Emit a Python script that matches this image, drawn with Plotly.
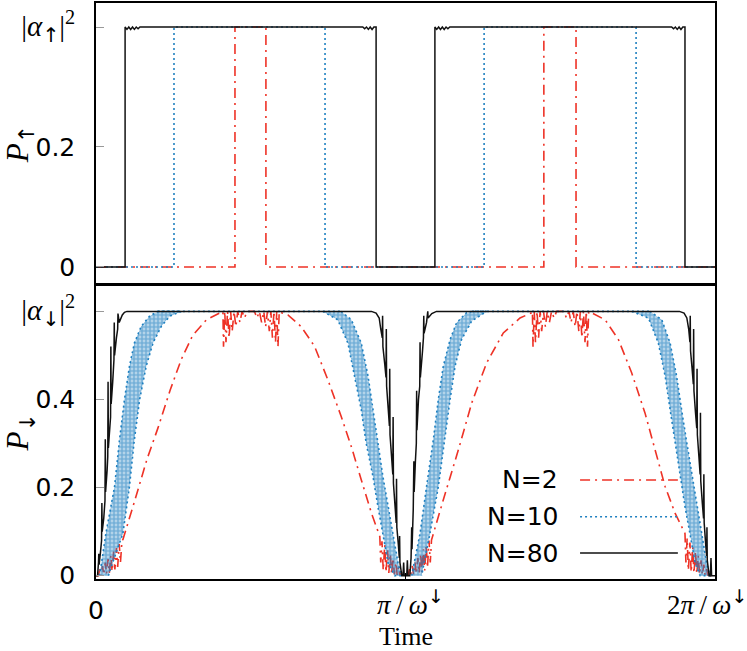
import plotly.graph_objects as go
from plotly.subplots import make_subplots

# ---
# data, time in units of pi/omega_down
# ---
RED = "#ee3226"
BLUE = "#1f80c0"
BLACK = "#111111"
SANS = "DejaVu Sans"
SERIF = "Liberation Serif"
ARROW = "DejaVu Sans"   # Liberation has no arrows, keep the emoji font out

# top panel: P_up (square waves)
t_up_n2 = [0.000, 0.449, 0.449, 0.549, 0.549, 1.447, 1.447, 1.551, 1.551, 2.000]
p_up_n2 = [0.000, 0.000, 0.400, 0.400, 0.000, 0.000, 0.400, 0.400, 0.000, 0.000]

t_up_n10 = [0.000, 0.252, 0.252, 0.740, 0.740, 1.254, 1.254, 1.745, 1.745, 2.000]
p_up_n10 = [0.000, 0.000, 0.400, 0.400, 0.000, 0.000, 0.400, 0.400, 0.000, 0.000]

t_up_n80 = [0.000, 0.094, 0.094, 0.100, 0.106, 0.112, 0.118, 0.124, 0.130, 0.136, 0.142,
            0.862, 0.868, 0.874, 0.880, 0.886, 0.892, 0.898, 0.905, 0.905,
            1.095, 1.095, 1.101, 1.107, 1.113, 1.119, 1.125, 1.131, 1.137, 1.143,
            1.860, 1.866, 1.872, 1.878, 1.884, 1.890, 1.896, 1.903, 1.903, 2.000]
p_up_n80 = [0.000, 0.000, 0.400, 0.396, 0.400, 0.396, 0.400, 0.396, 0.400, 0.397, 0.400,
            0.400, 0.397, 0.400, 0.396, 0.400, 0.396, 0.400, 0.400, 0.000,
            0.000, 0.400, 0.396, 0.400, 0.396, 0.400, 0.396, 0.400, 0.397, 0.400,
            0.400, 0.397, 0.400, 0.396, 0.400, 0.396, 0.400, 0.400, 0.000, 0.000]

# bottom panel: P_down
dn_n2 = [
    (0.000, 0.000), (0.008, 0.000), (0.012, 0.015), (0.016, 0.000), (0.021, 0.022), (0.025, 0.002),
    (0.030, 0.030), (0.034, 0.004), (0.039, 0.038), (0.043, 0.006), (0.048, 0.046), (0.052, 0.010),
    (0.057, 0.055), (0.061, 0.014), (0.066, 0.063), (0.070, 0.020), (0.075, 0.072), (0.079, 0.030),
    (0.084, 0.080), (0.087, 0.082),
    (0.125, 0.170), (0.165, 0.265), (0.200, 0.335), (0.240, 0.422), (0.275, 0.490), (0.312, 0.545),
    (0.357, 0.581), (0.406, 0.597),
    (0.410, 0.600), (0.412, 0.520), (0.416, 0.600), (0.420, 0.530), (0.425, 0.600), (0.430, 0.540),
    (0.435, 0.600), (0.440, 0.555), (0.446, 0.600), (0.452, 0.565), (0.458, 0.600), (0.465, 0.575),
    (0.472, 0.600), (0.480, 0.585), (0.488, 0.600), (0.512, 0.600), (0.520, 0.585), (0.528, 0.600),
    (0.535, 0.575), (0.542, 0.600), (0.548, 0.565), (0.554, 0.600), (0.560, 0.555), (0.565, 0.600),
    (0.570, 0.540), (0.575, 0.600), (0.580, 0.530), (0.584, 0.600), (0.588, 0.520), (0.592, 0.600),
    (0.600, 0.597), (0.620, 0.592), (0.662, 0.566), (0.706, 0.521), (0.749, 0.445), (0.792, 0.362),
    (0.825, 0.293), (0.857, 0.218), (0.890, 0.142), (0.917, 0.089),
    (0.920, 0.030), (0.924, 0.078), (0.928, 0.012), (0.933, 0.070), (0.937, 0.008), (0.942, 0.060),
    (0.946, 0.006), (0.951, 0.050), (0.955, 0.004), (0.960, 0.040), (0.964, 0.003), (0.969, 0.030),
    (0.973, 0.002), (0.978, 0.020), (0.982, 0.001), (0.986, 0.010), (0.990, 0.000), (1.000, 0.000),
    (1.004, 0.008), (1.008, 0.000), (1.013, 0.015), (1.017, 0.001), (1.022, 0.022), (1.026, 0.002),
    (1.031, 0.030), (1.035, 0.004), (1.040, 0.040), (1.044, 0.006), (1.049, 0.050), (1.053, 0.008),
    (1.058, 0.060), (1.062, 0.012), (1.067, 0.070), (1.071, 0.018), (1.076, 0.080), (1.080, 0.030),
    (1.084, 0.081),
    (1.122, 0.172), (1.171, 0.286), (1.214, 0.392), (1.262, 0.483), (1.316, 0.551), (1.370, 0.585),
    (1.408, 0.597),
    (1.410, 0.600), (1.412, 0.520), (1.416, 0.600), (1.420, 0.530), (1.425, 0.600), (1.430, 0.540),
    (1.435, 0.600), (1.440, 0.555), (1.446, 0.600), (1.452, 0.565), (1.458, 0.600), (1.465, 0.575),
    (1.472, 0.600), (1.480, 0.585), (1.488, 0.600), (1.512, 0.600), (1.520, 0.585), (1.528, 0.600),
    (1.535, 0.575), (1.542, 0.600), (1.548, 0.565), (1.554, 0.600), (1.560, 0.555), (1.565, 0.600),
    (1.570, 0.540), (1.575, 0.600), (1.580, 0.530), (1.584, 0.600), (1.588, 0.520), (1.592, 0.600),
    (1.600, 0.597), (1.645, 0.581), (1.688, 0.536), (1.731, 0.460), (1.774, 0.369), (1.806, 0.286),
    (1.839, 0.202), (1.871, 0.142), (1.903, 0.096),
    (1.906, 0.030), (1.910, 0.085), (1.914, 0.012), (1.919, 0.075), (1.923, 0.008), (1.928, 0.065),
    (1.932, 0.006), (1.937, 0.055), (1.941, 0.004), (1.946, 0.045), (1.950, 0.003), (1.955, 0.035),
    (1.959, 0.002), (1.964, 0.025), (1.968, 0.001), (1.973, 0.015), (1.977, 0.000), (1.981, 0.008),
    (1.985, 0.000), (2.000, 0.000),
]

# N=10 oscillates fast: kept as the outline of the band it fills
band_n10_rise1 = [
    (0.010, 0.000), (0.016, 0.020), (0.032, 0.096), (0.060, 0.202), (0.076, 0.309), (0.092, 0.400),
    (0.108, 0.475), (0.124, 0.528), (0.146, 0.566), (0.173, 0.589), (0.200, 0.600),
    (0.276, 0.600), (0.238, 0.589), (0.211, 0.566), (0.184, 0.528), (0.162, 0.475), (0.141, 0.400),
    (0.124, 0.309), (0.108, 0.202), (0.087, 0.096), (0.049, 0.020), (0.040, 0.000),
]
band_n10_fall1 = [
    (0.733, 0.600), (0.781, 0.581), (0.814, 0.528), (0.835, 0.453), (0.857, 0.377), (0.873, 0.301),
    (0.895, 0.225), (0.911, 0.157), (0.927, 0.096), (0.944, 0.028), (0.965, 0.000),
    (0.987, 0.000), (0.976, 0.028), (0.960, 0.096), (0.944, 0.157), (0.927, 0.225), (0.911, 0.301),
    (0.895, 0.377), (0.879, 0.453), (0.857, 0.528), (0.825, 0.581), (0.792, 0.600),
]
band_n10_rise2 = [
    (1.020, 0.000), (1.047, 0.096), (1.068, 0.202), (1.090, 0.309), (1.106, 0.400), (1.122, 0.475),
    (1.144, 0.536), (1.165, 0.574), (1.197, 0.597), (1.215, 0.600),
    (1.262, 0.600), (1.214, 0.578), (1.181, 0.536), (1.160, 0.475), (1.144, 0.400), (1.127, 0.309),
    (1.106, 0.202), (1.079, 0.096), (1.052, 0.000),
]
band_n10_fall2 = [
    (1.731, 0.600), (1.785, 0.585), (1.817, 0.528), (1.839, 0.453), (1.855, 0.377), (1.871, 0.301),
    (1.887, 0.225), (1.903, 0.157), (1.919, 0.096), (1.936, 0.028), (1.952, 0.000),
    (1.984, 0.000), (1.973, 0.028), (1.957, 0.096), (1.941, 0.157), (1.925, 0.225), (1.909, 0.301),
    (1.892, 0.377), (1.876, 0.453), (1.855, 0.528), (1.828, 0.581), (1.790, 0.600),
]
flat_n10_t = [0.200, 0.792, None, 1.215, 1.790]
flat_n10_p = [0.600, 0.600, None, 0.600, 0.600]

dn_n80 = [
    (0.000, 0.000), (0.005, 0.000), (0.008, 0.030), (0.009, 0.050), (0.010, 0.025), (0.014, 0.050),
    (0.018, 0.080), (0.019, 0.165), (0.020, 0.100), (0.025, 0.130), (0.029, 0.170), (0.030, 0.310),
    (0.031, 0.190), (0.036, 0.240), (0.038, 0.270), (0.039, 0.440), (0.040, 0.290), (0.045, 0.340),
    (0.047, 0.360), (0.048, 0.520), (0.049, 0.390), (0.054, 0.440), (0.058, 0.490), (0.059, 0.575),
    (0.060, 0.500), (0.066, 0.540), (0.070, 0.560), (0.071, 0.595), (0.075, 0.575), (0.085, 0.592),
    (0.092, 0.598), (0.100, 0.600), (0.890, 0.600),
    (0.905, 0.596), (0.915, 0.585), (0.920, 0.560), (0.925, 0.540), (0.926, 0.590), (0.927, 0.520),
    (0.933, 0.480), (0.937, 0.450), (0.938, 0.560), (0.939, 0.430), (0.944, 0.380), (0.948, 0.340),
    (0.949, 0.470), (0.950, 0.320), (0.955, 0.270), (0.959, 0.230), (0.960, 0.360), (0.961, 0.210),
    (0.966, 0.160), (0.970, 0.120), (0.971, 0.220), (0.972, 0.110), (0.977, 0.070), (0.980, 0.040),
    (0.981, 0.090), (0.982, 0.030), (0.988, 0.000), (0.992, 0.000), (0.994, 0.030), (0.996, 0.000),
    (1.004, 0.000), (1.006, 0.035), (1.008, 0.000), (1.014, 0.000),
    (1.018, 0.040), (1.020, 0.110), (1.021, 0.060), (1.025, 0.150), (1.027, 0.260), (1.028, 0.190),
    (1.032, 0.260), (1.035, 0.300), (1.036, 0.420), (1.037, 0.330), (1.042, 0.400), (1.046, 0.430),
    (1.047, 0.530), (1.048, 0.450), (1.055, 0.510), (1.058, 0.540), (1.059, 0.590), (1.060, 0.550),
    (1.068, 0.575), (1.072, 0.600), (1.073, 0.585), (1.085, 0.595), (1.100, 0.600), (1.885, 0.600),
    (1.900, 0.596), (1.909, 0.585), (1.915, 0.560), (1.919, 0.530), (1.920, 0.590), (1.921, 0.510),
    (1.926, 0.470), (1.930, 0.435), (1.931, 0.560), (1.932, 0.420), (1.937, 0.370), (1.941, 0.335),
    (1.942, 0.470), (1.943, 0.320), (1.948, 0.270), (1.952, 0.230), (1.953, 0.370), (1.954, 0.215),
    (1.959, 0.165), (1.963, 0.130), (1.964, 0.230), (1.965, 0.120), (1.970, 0.070), (1.973, 0.045),
    (1.974, 0.110), (1.975, 0.035), (1.981, 0.000), (1.985, 0.000), (1.987, 0.040), (1.989, 0.000),
    (2.000, 0.000),
]

legend_names = ["N=2", "N=10", "N=80"]


def arrow(a):
    return f'<span style="font-family:{ARROW}">{a}</span>'


x_tickvals = [0, 1, 2]
x_ticktext = [
    "0",
    f'<span style="font-family:{SERIF};font-size:27px"><i>π</i>\u2009/\u2009<i>ω</i><sup>{arrow("↓")}</sup></span>',
    f'<span style="font-family:{SERIF};font-size:27px">2<i>π</i>\u2009/\u2009<i>ω</i><sup>{arrow("↓")}</sup></span>',
]
x_label_y = [-0.054, -0.040, -0.040]   # paper y of each x tick label
x_label_shift = [0, 5, -8]             # px, the original labels sit a bit off their ticks
y_up_tickvals = [0, 0.2, 0.4]
y_up_ticktext = ["0", "0.2",
                 f'<span style="font-family:{SERIF};font-size:29px">|<i>α</i><sub>{arrow("↑")}</sub>|<sup>2</sup></span>']
y_dn_tickvals = [0, 0.2, 0.4, 0.6]
y_dn_ticktext = ["0", "0.2", "0.4",
                 f'<span style="font-family:{SERIF};font-size:29px">|<i>α</i><sub>{arrow("↓")}</sub>|<sup>2</sup></span>']

DASHDOT = "10px,5px,2px,5px"
DOT = "2px,3px"

# ---
# figure
# ---
fig = make_subplots(rows=2, cols=1, shared_xaxes=True, vertical_spacing=0.0)

# top panel
fig.add_trace(go.Scatter(x=t_up_n2, y=p_up_n2, mode='lines',
                         line=dict(color=RED, width=1.6, dash=DASHDOT)), row=1, col=1)
fig.add_trace(go.Scatter(x=t_up_n10, y=p_up_n10, mode='lines',
                         line=dict(color=BLUE, width=1.6, dash=DOT)), row=1, col=1)
fig.add_trace(go.Scatter(x=t_up_n80, y=p_up_n80, mode='lines',
                         line=dict(color=BLACK, width=1.5)), row=1, col=1)

# bottom panel
fig.add_trace(go.Scatter(x=[p[0] for p in dn_n2], y=[p[1] for p in dn_n2], mode='lines',
                         line=dict(color=RED, width=1.6, dash=DASHDOT)), row=2, col=1)
for band in [band_n10_rise1, band_n10_fall1, band_n10_rise2, band_n10_fall2]:
    fig.add_trace(go.Scatter(
        x=[p[0] for p in band], y=[p[1] for p in band],
        mode='lines', fill='toself',
        fillcolor='rgba(31,128,192,0.22)',
        fillpattern=dict(shape='.', fgcolor=BLUE, bgcolor='rgba(31,128,192,0.22)', size=4, solidity=0.75),
        line=dict(color=BLUE, width=1.6, dash=DOT),
    ), row=2, col=1)
fig.add_trace(go.Scatter(x=flat_n10_t, y=flat_n10_p, mode='lines',
                         line=dict(color=BLUE, width=1.6, dash=DOT)), row=2, col=1)
fig.add_trace(go.Scatter(x=[p[0] for p in dn_n80], y=[p[1] for p in dn_n80], mode='lines',
                         line=dict(color=BLACK, width=1.5)), row=2, col=1)

axis_common = dict(
    showline=True, linecolor='black', linewidth=1.5, mirror=True,
    showgrid=False, zeroline=False, automargin=False,
    tickfont=dict(family=SANS, size=25, color='black'),
)

fig.update_layout(
    width=747, height=651,
    margin=dict(l=96, r=32, t=3, b=72),
    plot_bgcolor='white', paper_bgcolor='white',
    showlegend=False,
    xaxis=dict(axis_common, domain=[0, 1], range=[0, 2], showticklabels=False, ticks=''),
    xaxis2=dict(axis_common, domain=[0, 1], range=[0, 2], tickvals=x_tickvals,
                showticklabels=False, ticks='inside', ticklen=6, tickcolor='black'),
    yaxis=dict(axis_common, domain=[0.5115, 1], range=[-0.029, 0.44],
               tickvals=y_up_tickvals, ticktext=y_up_ticktext,
               ticks='inside', ticklen=8, tickcolor='#999999', ticklabelstandoff=14,
               title=dict(text=f'<i>P</i><sub>{arrow("↑")}</sub>',
                          font=dict(family=SERIF, size=31, color='black'), standoff=0)),
    yaxis2=dict(axis_common, domain=[0, 0.5105], range=[-0.0075, 0.66],
                tickvals=y_dn_tickvals, ticktext=y_dn_ticktext,
                ticks='inside', ticklen=8, tickcolor='#999999', ticklabelstandoff=14,
                title=dict(text=f'<i>P</i><sub>{arrow("↓")}</sub>',
                           font=dict(family=SERIF, size=31, color='black'), standoff=0)),
)

# x tick labels and title placed by hand so the mixed fonts line up like the original
for xv, txt, yy, dx in zip(x_tickvals, x_ticktext, x_label_y, x_label_shift):
    fig.add_annotation(text=txt, xref='x2', yref='paper', x=xv, y=yy, xshift=dx,
                       xanchor='center', yanchor='middle', showarrow=False,
                       font=dict(family=SANS, size=25, color='black'))
fig.add_annotation(text='Time', xref='paper', yref='paper', x=0.5, y=-0.100,
                   xanchor='center', yanchor='middle', showarrow=False,
                   font=dict(family=SERIF, size=26, color='black'))

# legend: text on the left, sample line on the right
legend_rows = [0.172, 0.108, 0.045]
legend_styles = [dict(color=RED, width=1.6, dash=DASHDOT),
                 dict(color=BLUE, width=1.6, dash=DOT),
                 dict(color=BLACK, width=1.5)]
for name, yy, style in zip(legend_names, legend_rows, legend_styles):
    fig.add_annotation(text=name, xref='paper', yref='paper', x=0.750, y=yy,
                       xanchor='right', yanchor='middle', showarrow=False,
                       font=dict(family=SANS, size=25, color='black'))
    fig.add_shape(type='line', xref='paper', yref='paper', x0=0.782, x1=0.940, y0=yy, y1=yy,
                  line=style)

fig.write_html("out.html", config={'displayModeBar': False},
               post_script="document.body.style.margin='0px';")
